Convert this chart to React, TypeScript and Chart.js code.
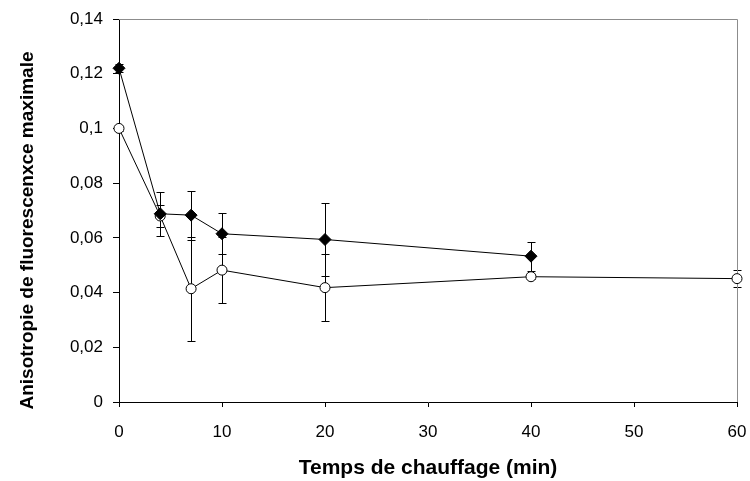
import React, { useEffect, useRef } from "react";
import { Chart, registerables } from "chart.js";

Chart.register(...registerables);

// Heating time (min) and maximal fluorescence anisotropy
const timesA = [0, 4, 7, 10, 20, 40];
const valuesA = [0.122, 0.0688, 0.0683, 0.0615, 0.0594, 0.0533];
const errorsA = [0.0015, 0.008, 0.009, 0.0075, 0.0133, 0.0053];

const timesB = [0, 4, 7, 10, 20, 40, 60];
const valuesB = [0.1, 0.068, 0.0414, 0.0482, 0.0418, 0.0458, 0.0451];
const errorsB = [0.001, 0.004, 0.019, 0.012, 0.0122, 0.001, 0.0032];

const xMin = 0;
const xMax = 60;
const xStep = 10;
const yMin = 0;
const yMax = 0.14;
const yStep = 0.02;

const xTitle = "Temps de chauffage (min)";
const yTitle = "Anisotropie de fluorescenxce maximale";

const FONT = "'Liberation Sans', Arial, sans-serif";

const formatY = (v: number) => Number(v.toFixed(2)).toString().replace(".", ",");

const errorBarPlugin = {
  id: "errorBars",
  beforeDatasetsDraw(chart: any) {
    const { ctx } = chart;
    const x = chart.scales.x;
    const y = chart.scales.y;
    const sets: [number[], number[], number[]][] = [
      [timesB, valuesB, errorsB],
      [timesA, valuesA, errorsA],
    ];
    ctx.save();
    ctx.strokeStyle = "#000";
    ctx.lineWidth = 1;
    sets.forEach(([ts, vs, es]) => {
      ts.forEach((t, i) => {
        const px = Math.round(x.getPixelForValue(t)) + 0.5;
        const top = Math.round(y.getPixelForValue(vs[i] + es[i])) + 0.5;
        const bot = Math.round(y.getPixelForValue(vs[i] - es[i])) + 0.5;
        ctx.beginPath();
        ctx.moveTo(px, top);
        ctx.lineTo(px, bot);
        ctx.moveTo(px - 4, top);
        ctx.lineTo(px + 4, top);
        ctx.moveTo(px - 4, bot);
        ctx.lineTo(px + 4, bot);
        ctx.stroke();
      });
    });
    ctx.restore();
  },
};

const framePlugin = {
  id: "frame",
  beforeDatasetsDraw(chart: any) {
    const { ctx, chartArea } = chart;
    ctx.save();
    ctx.strokeStyle = "#8c8c8c";
    ctx.lineWidth = 1;
    ctx.beginPath();
    ctx.moveTo(chartArea.left, Math.round(chartArea.top) + 0.5);
    ctx.lineTo(Math.round(chartArea.right) + 0.5, Math.round(chartArea.top) + 0.5);
    ctx.lineTo(Math.round(chartArea.right) + 0.5, chartArea.bottom);
    ctx.stroke();
    ctx.restore();
  },
};

const titlesPlugin = {
  id: "titles",
  afterDraw(chart: any) {
    const { ctx, chartArea } = chart;
    ctx.save();
    ctx.fillStyle = "#000";
    ctx.textAlign = "center";
    ctx.textBaseline = "middle";
    ctx.font = `bold 21px ${FONT}`;
    ctx.fillText(xTitle, (chartArea.left + chartArea.right) / 2, chart.height - 13);
    ctx.translate(28, (chartArea.top + chartArea.bottom) / 2 + 20);
    ctx.rotate(-Math.PI / 2);
    ctx.font = `bold 19px ${FONT}`;
    ctx.fillText(yTitle, 0, 0);
    ctx.restore();
  },
};

export default function App() {
  const ref = useRef<HTMLCanvasElement | null>(null);

  useEffect(() => {
    if (!ref.current) return;
    const chart = new Chart(ref.current, {
      type: "line",
      data: {
        datasets: [
          {
            label: "A",
            data: timesA.map((t, i) => ({ x: t, y: valuesA[i] })),
            borderColor: "#000",
            borderWidth: 1,
            backgroundColor: "#000",
            pointStyle: "rectRot",
            pointRadius: 6,
            pointBackgroundColor: "#000",
            pointBorderColor: "#000",
            pointBorderWidth: 1,
            tension: 0,
            fill: false,
            clip: false,
          },
          {
            label: "B",
            data: timesB.map((t, i) => ({ x: t, y: valuesB[i] })),
            borderColor: "#000",
            borderWidth: 1,
            backgroundColor: "#fff",
            pointStyle: "circle",
            pointRadius: 5,
            pointBackgroundColor: "#fff",
            pointBorderColor: "#000",
            pointBorderWidth: 1,
            tension: 0,
            fill: false,
            clip: false,
          },
        ],
      },
      options: {
        animation: false,
        responsive: false,
        layout: { padding: { left: 0, right: 13, top: 19, bottom: 0 } },
        plugins: {
          legend: { display: false },
          tooltip: { enabled: false },
        },
        scales: {
          x: {
            type: "linear",
            min: xMin,
            max: xMax,
            ticks: {
              stepSize: xStep,
              color: "#000",
              padding: 15,
              font: { family: FONT, size: 17 },
              maxRotation: 0,
            },
            grid: {
              drawOnChartArea: false,
              drawTicks: true,
              tickLength: 5,
              color: "#000",
            },
            border: { color: "#000", width: 1 },
            afterFit: (s: any) => {
              s.height = 79;
              s.paddingLeft = 0;
              s.paddingRight = 0;
            },
          },
          y: {
            type: "linear",
            min: yMin,
            max: yMax,
            ticks: {
              stepSize: yStep,
              color: "#000",
              padding: 10,
              font: { family: FONT, size: 17 },
              callback: (v: any) => formatY(Number(v)),
            },
            grid: {
              drawOnChartArea: false,
              drawTicks: true,
              tickLength: 6,
              color: "#000",
            },
            border: { color: "#000", width: 1 },
            afterFit: (s: any) => {
              s.width = 119;
              s.paddingTop = 0;
              s.paddingBottom = 0;
            },
          },
        },
      } as any,
      plugins: [errorBarPlugin, framePlugin, titlesPlugin],
    });
    return () => chart.destroy();
  }, []);

  return (
    <div style={{ position: "absolute", left: 0, top: 0, width: 750, height: 481, background: "#fff" }}>
      <canvas ref={ref} width={750} height={481} />
    </div>
  );
}
